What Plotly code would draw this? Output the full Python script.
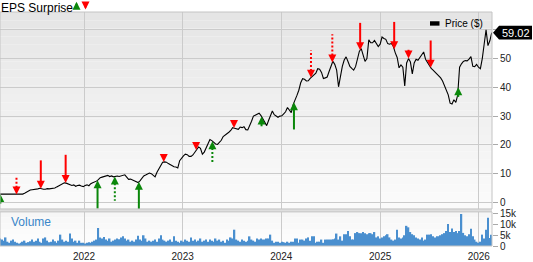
import numpy as np
import pandas as pd
import plotly.graph_objects as go

# ---------------- data ----------------
start_date = "2021-02-24"   # weekly series start

price = [
    2.9, 2.9, 2.8, 2.8, 2.9, 2.9, 2.8, 2.8, 2.8, 2.7,
    2.8, 2.8, 2.9, 3.2, 3.6, 4.0, 4.3, 4.4, 4.5, 4.4,
    4.7, 4.9, 4.7, 4.6, 4.6, 4.8, 4.7, 4.8, 5.0, 5.0,
    5.4, 5.8, 6.0, 6.4, 6.8, 6.7, 6.4, 6.2, 5.9, 6.1,
    5.6, 5.9, 6.0, 5.7, 5.5, 5.9, 6.1, 5.8, 6.5, 6.8,
    7.0, 7.4, 7.9, 8.6, 8.8, 9.0, 9.3, 9.4, 9.0, 9.2,
    8.9, 9.1, 9.2, 9.0, 9.2, 9.5, 9.6, 8.8, 8.0, 8.1,
    7.8, 7.4, 7.2, 6.9, 7.5, 8.2, 9.2, 9.5, 9.8, 10.2,
    10.0, 9.5, 8.9, 10.5, 11.6, 12.8, 14.0, 14.1, 14.0, 13.5,
    13.1, 12.8, 12.4, 12.3, 12.0, 14.5, 15.5, 16.2, 16.8, 16.6,
    16.0, 16.0, 16.5, 17.5, 18.5, 19.3, 18.8, 16.8, 17.5, 18.9,
    20.0, 21.9, 21.5, 20.8, 20.3, 20.2, 20.8, 21.6, 22.9, 23.3,
    23.8, 24.4, 25.0, 26.0, 25.8, 25.5, 25.4, 26.2, 26.0, 26.3,
    25.3, 25.2, 26.5, 28.2, 30.0, 30.3, 30.8, 31.0, 30.2, 29.0,
    27.5, 26.7, 28.5, 30.5, 31.8, 30.5, 30.1, 29.6, 30.0, 30.1,
    30.8, 31.5, 33.0, 32.0, 31.2, 34.0, 36.0, 37.2, 39.0, 41.6,
    43.0, 42.8, 42.2, 42.3, 43.1, 43.7, 44.2, 44.9, 46.5, 46.3,
    45.2, 43.1, 43.3, 43.6, 45.5, 47.6, 49.1, 48.0, 46.0, 40.2,
    43.8, 47.3, 49.5, 50.6, 49.0, 47.3, 46.6, 46.0, 47.2, 49.5,
    52.5, 53.5, 51.2, 49.0, 50.0, 56.5, 55.5, 55.5, 56.3, 55.0,
    54.2, 55.0, 57.5, 57.0, 56.7, 55.2, 55.0, 55.3, 54.2, 52.0,
    50.4, 46.8, 47.8, 47.0, 40.5, 48.5, 50.0, 48.8, 44.7, 48.5,
    49.8, 49.4, 50.3, 51.5, 52.3, 49.8, 48.6, 47.3, 46.6, 46.0,
    45.4, 44.8, 44.0, 43.3, 42.2, 40.8, 39.3, 37.4, 34.5, 34.2,
    35.7, 34.8, 37.3, 47.0, 48.2, 49.0, 49.3, 49.2, 49.8, 50.7,
    47.3, 47.2, 48.0, 47.0, 46.5, 50.0, 55.0, 60.0, 54.5, 56.2,
    59.02,
]

volume_k = [
    3.5, 3.0, 2.5, 4.0, 2.0, 1.5, 2.5, 3.0, 2.0, 1.5,
    1.2, 1.5, 2.0, 2.5, 1.5, 1.8, 2.2, 3.0, 2.0, 2.5,
    3.5, 2.0, 1.5, 3.5, 4.0, 2.5, 1.8, 2.0, 3.0, 2.2,
    1.5, 2.5, 5.3, 3.0, 2.0, 2.5, 2.0, 5.8, 3.5, 2.0,
    2.5, 1.5, 2.5, 1.5, 1.5, 1.2, 1.5, 1.8, 1.5, 2.0,
    2.5, 3.0, 8.4, 4.0, 3.5, 4.2, 3.0, 2.5, 3.5, 2.0,
    2.5, 3.0, 3.5, 3.2, 4.0, 4.5, 3.5, 2.5, 3.0, 2.0,
    2.5, 2.0, 3.0, 4.8, 3.0, 2.5, 5.0, 3.5, 2.0, 2.5,
    2.0, 2.5, 3.0, 2.0, 3.5, 5.0, 3.0, 2.5, 2.0, 2.5,
    3.0, 2.0, 4.5, 2.5, 2.0, 1.5, 2.5, 2.0, 3.0, 2.5,
    2.0, 4.0, 2.5, 3.0, 2.0, 2.5, 3.5, 2.0, 2.5, 3.0,
    2.0, 3.0, 2.5, 2.0, 3.5, 2.5, 3.0, 2.0, 2.5, 1.5,
    3.0, 2.5, 4.0, 3.5, 7.6, 3.0, 2.5, 2.0, 3.0, 2.5,
    2.0, 2.5, 4.5, 3.0, 2.5, 2.0, 3.5, 3.0, 3.5, 3.0,
    3.0, 3.5, 3.5, 5.3, 2.5, 1.5, 2.0, 2.0, 1.5, 2.0,
    1.8, 1.5, 2.0, 1.5, 2.0, 2.0, 3.5, 3.5, 1.5, 3.0,
    3.0, 2.5, 3.5, 4.0, 2.5, 4.5, 4.5, 1.5, 2.0, 2.0,
    3.0, 1.5, 3.0, 3.0, 3.0, 3.0, 3.2, 3.5, 5.8, 3.0,
    4.5, 2.5, 5.5, 5.5, 7.0, 4.5, 3.0, 3.0, 6.0, 6.5,
    6.0, 6.0, 6.5, 6.0, 5.5, 6.0, 6.0, 5.5, 6.5, 4.0,
    4.5, 3.5, 4.0, 4.5, 5.0, 5.5, 4.0, 3.0, 2.5, 3.0,
    7.6, 4.0, 3.5, 4.0, 5.0, 9.4, 8.7, 6.5, 5.5, 5.0,
    4.0, 3.5, 3.0, 4.0, 2.5, 3.0, 5.3, 5.3, 5.5, 4.5,
    4.0, 4.5, 4.5, 5.0, 5.5, 6.0, 7.0, 10.2, 6.5, 8.1,
    6.5, 7.0, 6.0, 7.0, 14.9, 6.1, 5.0, 4.5, 5.5, 8.0,
    4.5, 3.0, 2.0, 1.5, 2.0, 5.3, 3.5, 7.6, 13.2, 3.7,
    5.3,
]

eps_dates = [
    "2021-02-25", "2021-04-26", "2021-07-25", "2021-10-25", "2022-02-20",
    "2022-04-25", "2022-07-23", "2022-10-23", "2023-02-20", "2023-04-21",
    "2023-07-10", "2023-10-20", "2024-02-17", "2024-04-20", "2024-07-08",
    "2024-10-19", "2025-02-22", "2025-04-16", "2025-07-07", "2025-10-17",
]
eps_surprise = [10, -19, -29, -29, 29, 25, 29, -8, -8, 23,
                -8, 10, 28, -28, -29, -28, -28, -10, -28, 10]
eps_dotted = [False, True, False, False, False, True, False, False, False, True,
              False, False, False, True, True, False, False, True, False, False]

price_ticks = [0, 10, 20, 30, 40, 50, 60]
price_tick_text = ["0", "10", "20", "30", "40", "50", ""]
vol_ticks = [0, 5, 10, 15]
vol_tick_text = ["0", "5k", "10k", "15k"]
last_price_text = "59.02"

# ---------------- geometry / style ----------------
W, H = 533, 262
ML, MR, MT, MB = 0, 41, 12, 10
PW = W - ML - MR
PH = H - MT - MB
PRICE_TOP, PRICE_BOT = 12, 214
VOL_TOP, VOL_BOT = 217, 252
P_MIN, P_MAX = -2.27, 66.2
V_MAX = 15.9
FONT = "Liberation Sans, Arial, sans-serif"
RED = "#ff0000"
GREEN = "#0a870a"
GRID = "#cbcbcb"
HEAD = 8  # arrow head px


def pxx(x):
    return (x - ML) / PW


def pxy(y):
    return (VOL_BOT - y) / PH


dates = pd.date_range(start_date, periods=len(price), freq="7D")
ppu = (PRICE_BOT - PRICE_TOP) / (P_MAX - P_MIN)

fig = go.Figure()

# price line
fig.add_trace(go.Scatter(x=dates, y=price, mode="lines",
                         line=dict(color="#000000", width=1.1),
                         xaxis="x", yaxis="y", hoverinfo="skip"))

# volume bars
fig.add_trace(go.Bar(x=dates, y=volume_k, marker=dict(color="#4a8fcf", line=dict(width=0)),
                     xaxis="x2", yaxis="y2", hoverinfo="skip"))

# EPS surprise arrows
dnum = dates.values.astype("int64")
ev = pd.to_datetime(eps_dates)
tips = np.interp(ev.values.astype("int64"), dnum, price)
stems = {(c, d): ([], []) for c in (RED, GREEN) for d in (False, True)}
heads = {RED: ([], []), GREEN: ([], [])}
for d, t, s, dot in zip(ev, tips, eps_surprise, eps_dotted):
    col = GREEN if s > 0 else RED
    sign = -1 if s > 0 else 1
    heads[col][0].append(d)
    heads[col][1].append(t)
    L = abs(s)
    if L > HEAD:
        xs, ys = stems[(col, dot)]
        xs += [d, d, None]
        ys += [t + sign * (HEAD - 1) / ppu, t + sign * L / ppu, None]

for (col, dot), (xs, ys) in stems.items():
    if xs:
        fig.add_trace(go.Scatter(x=xs, y=ys, mode="lines",
                                 line=dict(color=col, width=2,
                                           dash=("2px,2px" if dot else "solid")),
                                 xaxis="x", yaxis="y", hoverinfo="skip"))
for col, (xs, ys) in heads.items():
    fig.add_trace(go.Scatter(x=xs, y=ys, mode="markers",
                             marker=dict(symbol="arrow-up" if col == GREEN else "arrow-down",
                                         size=HEAD, color=col, line=dict(width=0)),
                             xaxis="x", yaxis="y", hoverinfo="skip"))

# ---------------- shapes ----------------
shapes = []
N = 24
for k in range(N):
    y0 = PRICE_TOP + k * (PRICE_BOT - PRICE_TOP) / N
    y1 = PRICE_TOP + (k + 1) * (PRICE_BOT - PRICE_TOP) / N
    g = int(round(229 + (251 - 229) * k / (N - 1)))
    shapes.append(dict(type="rect", xref="paper", yref="paper", x0=0, x1=1,
                       y0=pxy(y1), y1=pxy(y0), fillcolor=f"rgb({g},{g},{g})",
                       line=dict(width=0), layer="below"))
N2 = 6
for k in range(N2):
    y0 = VOL_TOP + k * (VOL_BOT - VOL_TOP) / N2
    y1 = VOL_TOP + (k + 1) * (VOL_BOT - VOL_TOP) / N2
    g = int(round(246 + (254 - 246) * k / (N2 - 1)))
    shapes.append(dict(type="rect", xref="paper", yref="paper", x0=0, x1=1,
                       y0=pxy(y1), y1=pxy(y0), fillcolor=f"rgb({g},{g},{g})",
                       line=dict(width=0), layer="below"))
# separator band
shapes.append(dict(type="rect", xref="paper", yref="paper", x0=0, x1=1,
                   y0=pxy(VOL_TOP), y1=pxy(PRICE_BOT), fillcolor="#dedede",
                   line=dict(width=0), layer="above"))
# borders
shapes.append(dict(type="rect", xref="paper", yref="paper", x0=0, x1=1,
                   y0=pxy(PRICE_BOT), y1=1, line=dict(color="#c4c4c4", width=1),
                   fillcolor="rgba(0,0,0,0)", layer="above"))
shapes.append(dict(type="rect", xref="paper", yref="paper", x0=0, x1=1,
                   y0=0, y1=pxy(VOL_TOP), line=dict(color="#c4c4c4", width=1),
                   fillcolor="rgba(0,0,0,0)", layer="above"))
# last-price tag
lp = price[-1]
hh = 7 / ppu
tip_x, body_x, end_x = pxx(493), pxx(499), pxx(532)
shapes.append(dict(type="path", xref="paper", yref="y",
                   path=f"M {tip_x},{lp} L {body_x},{lp + hh} L {end_x},{lp + hh} "
                        f"L {end_x},{lp - hh} L {body_x},{lp - hh} Z",
                   fillcolor="#000000", line=dict(width=0), layer="above"))
# price legend swatch
shapes.append(dict(type="rect", xref="paper", yref="paper", x0=pxx(430), x1=pxx(439.5),
                   y0=pxy(26), y1=pxy(21.5), fillcolor="#000000", line=dict(width=0)))

annotations = [
    dict(text="EPS Surprise", xref="paper", yref="paper", x=pxx(-1), y=pxy(-1.5),
         xanchor="left", yanchor="top", showarrow=False,
         font=dict(family=FONT, size=12, color="#000000")),
    dict(text="", xref="paper", yref="paper", x=pxx(76.5), y=pxy(1.5),
         ax=0, ay=8, showarrow=True, arrowhead=2, arrowsize=0.8, arrowwidth=2,
         arrowcolor=GREEN, standoff=0),
    dict(text="", xref="paper", yref="paper", x=pxx(85.5), y=pxy(9.5),
         ax=0, ay=-8, showarrow=True, arrowhead=2, arrowsize=0.8, arrowwidth=2,
         arrowcolor=RED, standoff=0),
    dict(text="Price ($)", xref="paper", yref="paper", x=pxx(443), y=pxy(24),
         xanchor="left", yanchor="middle", showarrow=False,
         font=dict(family=FONT, size=10, color="#000000")),
    dict(text=last_price_text, xref="paper", yref="y", x=pxx(515.5), y=lp,
         xanchor="center", yanchor="middle", showarrow=False,
         font=dict(family=FONT, size=11, color="#ffffff")),
    dict(text="Volume", xref="paper", yref="paper", x=pxx(9), y=pxy(227),
         xanchor="left", yanchor="middle", showarrow=False,
         font=dict(family=FONT, size=12, color="#3a86c8")),
]

x_range = ["2021-02-24", "2026-02-19"]
axis_font = dict(family=FONT, size=10, color="#222222")

fig.update_layout(
    width=W, height=H,
    margin=dict(l=ML, r=MR, t=MT, b=MB, pad=0),
    paper_bgcolor="#ffffff", plot_bgcolor="rgba(0,0,0,0)",
    showlegend=False, bargap=0.2,
    shapes=shapes, annotations=annotations,
    xaxis=dict(domain=[0, 1], anchor="y", range=x_range, type="date",
               showticklabels=False, ticks="", dtick="M12", tick0="2022-01-01",
               showgrid=True, gridcolor=GRID, gridwidth=1, zeroline=False, showline=False),
    xaxis2=dict(domain=[0, 1], anchor="y2", range=x_range, type="date", matches="x",
                dtick="M12", tick0="2022-01-01", tickformat="%Y", ticks="",
                ticklabelstandoff=3,
                showgrid=True, gridcolor=GRID, gridwidth=1, zeroline=False, showline=False,
                tickfont=axis_font),
    yaxis=dict(domain=[pxy(PRICE_BOT), 1], anchor="x", side="right", range=[P_MIN, P_MAX],
               tickvals=price_ticks, ticktext=price_tick_text, ticks="outside", ticklen=5,
               tickcolor="#aaaaaa", showgrid=True, gridcolor=GRID, gridwidth=1,
               zeroline=False, showline=False, tickfont=axis_font),
    yaxis2=dict(domain=[0, pxy(VOL_TOP)], anchor="x2", side="right", range=[0, V_MAX],
                tickvals=vol_ticks, ticktext=vol_tick_text, ticks="outside", ticklen=5,
                tickcolor="#aaaaaa", showgrid=False, zeroline=False, showline=False,
                tickfont=axis_font),
)

fig.write_html("out.html")
